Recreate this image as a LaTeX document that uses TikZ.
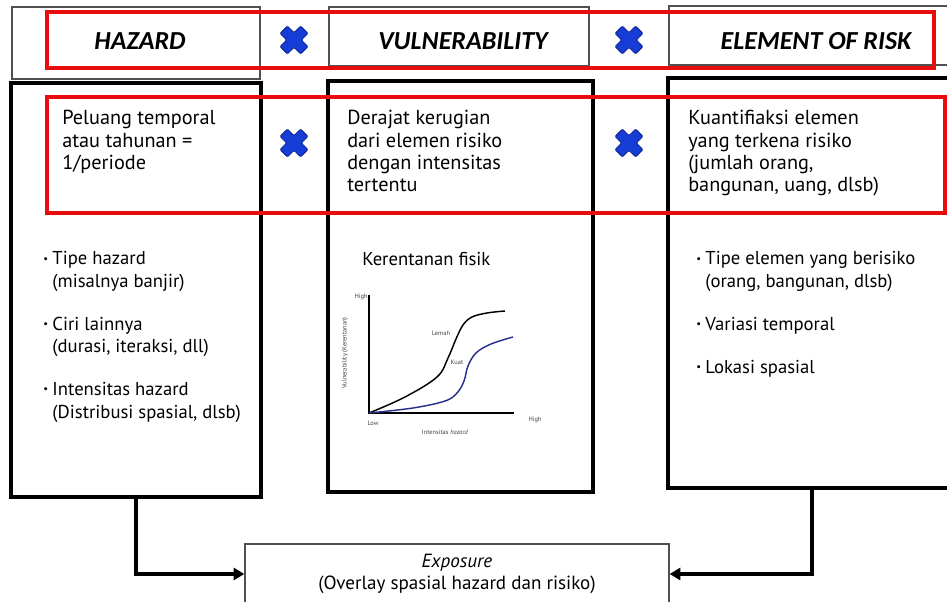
\documentclass[tikz,border=0pt]{standalone}
\usepackage{fontspec}
\setmainfont{PT Sans}
\newfontfamily\headfont{Carlito}
\usetikzlibrary{arrows.meta,fit}

\definecolor{riskred}{RGB}{232,12,12}
\definecolor{crossblue}{RGB}{22,62,214}
\definecolor{crossedge}{RGB}{10,30,140}
\definecolor{framegray}{RGB}{80,80,80}
\definecolor{curveblue}{RGB}{40,50,140}

% small bullet with hanging indent for list lines
\newcommand\bul{\makebox[6.9pt][l]{\raisebox{2.2pt}{\fontsize{8pt}{8pt}\selectfont\textbullet}}}
\newcommand\ind{\hspace*{6.9pt}}

\tikzset{
  thickbox/.style={draw=black, line width=3pt, inner sep=0pt},
  thinbox/.style={draw=framegray, line width=1pt, inner sep=0pt},
  redframe/.style={draw=riskred, line width=2.4pt},
  headtext/.style={font=\headfont\bfseries\itshape\fontsize{19.5pt}{22pt}\selectfont, inner sep=0pt},
  bodytext/.style={font=\fontsize{14pt}{16.8pt}\selectfont, anchor=base west, inner sep=0pt},
  deftext/.style={bodytext, font=\fontsize{15.2pt}{16.7pt}\selectfont},
  conn/.style={line width=3pt, -{Triangle[length=8pt,width=9pt]}},
  axisline/.style={line width=1.1pt},
  chartlabel/.style={font=\fontsize{4.8pt}{5pt}\selectfont, text=black!75, inner sep=0pt},
  pics/crossmark/.style={code={
    \filldraw[fill=crossblue, draw=crossedge, line width=0.6pt, rotate=45, rounded corners=0.8pt]
      (-14.5,5.2) -- (-5.2,5.2) -- (-5.2,14.5) -- (5.2,14.5) -- (5.2,5.2) -- (14.5,5.2) -- (14.5,-5.2)
      -- (5.2,-5.2) -- (5.2,-14.5) -- (-5.2,-14.5) -- (-5.2,-5.2) -- (-14.5,-5.2) -- cycle;}}
}

\begin{document}
\begin{tikzpicture}[x=0.75pt, y=-0.75pt]
\useasboundingbox (0,0) rectangle (947,602);
\clip (0,0) rectangle (947,602);

% header cells
\node[thinbox, fit={(12,7) (260,79)}] (hazhead) {};
\node[thinbox, fit={(329,7) (589,66)}] (vulhead) {};
\node[thinbox, fit={(669,6) (955,65)}] (elhead) {};

\node[headtext] (hazt) at (140,41) {HAZARD};
\node[headtext] (vult) at (463,41) {VULNERABILITY};
\node[headtext] (elt)  at (816,41) {ELEMENT OF RISK};

% main columns
\node[thickbox, fit={(11,83) (261,497)}] (hazbox) {};
\node[thickbox, fit={(328,81) (593,492)}] (vulbox) {};
\node[thickbox, fit={(668,78) (955,488)}] (elbox) {};

% multiplication signs
\pic at (294,40) {crossmark};
\pic at (629,40) {crossmark};
\pic at (294,143) {crossmark};
\pic at (629,143) {crossmark};

% definitions
\node[deftext] (hazdef) at (62,125) {\parbox[t]{180pt}{\raggedright
  Peluang temporal\\atau tahunan =\\1/periode}};
\node[deftext] (vuldef) at (347,125) {\parbox[t]{180pt}{\raggedright
  Derajat kerugian\\dari elemen risiko\\dengan intensitas\\tertentu}};
\node[deftext] (eldef) at (688,125) {\parbox[t]{200pt}{\raggedright
  Kuantifiaksi elemen\\yang terkena risiko\\(jumlah orang,\\bangunan, uang, dlsb)}};

% attribute lists
\node[bodytext] (hazlist) at (43,265) {\parbox[t]{200pt}{\raggedright
  \bul Tipe hazard\\\ind(misalnya banjir)\\[15.5pt]
  \bul Ciri lainnya\\\ind(durasi, iteraksi, dll)\\[15.5pt]
  \bul Intensitas hazard\\\ind(Distribusi spasial, dlsb)}};
\node[bodytext] (vullist) at (362,266) {Kerentanan fisik};
\node[bodytext] (ellist) at (696,265) {\parbox[t]{220pt}{\raggedright
  \bul Tipe elemen yang berisiko\\\ind(orang, bangunan, dlsb)\\[15.5pt]
  \bul Variasi temporal\\[15.5pt]
  \bul Lokasi spasial}};

% vulnerability curve chart
\draw[axisline] (369,295) -- (369,413) -- (514,413);
\draw[line width=1.1pt, black] plot[smooth, tension=0.6] coordinates
  {(369,413) (405,397) (437,377) (448,358) (456,339) (463,325) (472,317) (487,313) (505,311)};
\draw[line width=1.1pt, curveblue] plot[smooth, tension=0.6] coordinates
  {(369,413) (413,408) (445,401) (457,393) (464,381) (468,366) (476,353) (491,344) (513,337)};
\node[chartlabel] (yhigh) at (361,297) {High};
\node[chartlabel] (xlow) at (373,423) {Low};
\node[chartlabel] (xhigh) at (535,420) {High};
\node[chartlabel] (xlab) at (445,432) {Intensitas \textit{hazard}};
\node[chartlabel, rotate=90] (ylab) at (345,353) {Vulnerability (Kerentanan)};
\node[chartlabel] (weak) at (441,333) {Lemah};
\node[chartlabel] (strong) at (457,362) {Kuat};

% exposure box
\node[thinbox, minimum width=318pt, minimum height=45pt, align=center,
      font=\fontsize{14.3pt}{16pt}\selectfont] (expo) at (457,574)
  {\textit{Exposure}\\(Overlay spasial hazard dan risiko)};

% connectors
\draw[conn] (hazbox.south) |- (expo.west);
\draw[conn] (elbox.south) |- (expo.east);

% highlighted rows
\draw[redframe] (47,12) rectangle (934,68);
\draw[redframe] (47,97) rectangle (945,213);
\end{tikzpicture}
\end{document}
